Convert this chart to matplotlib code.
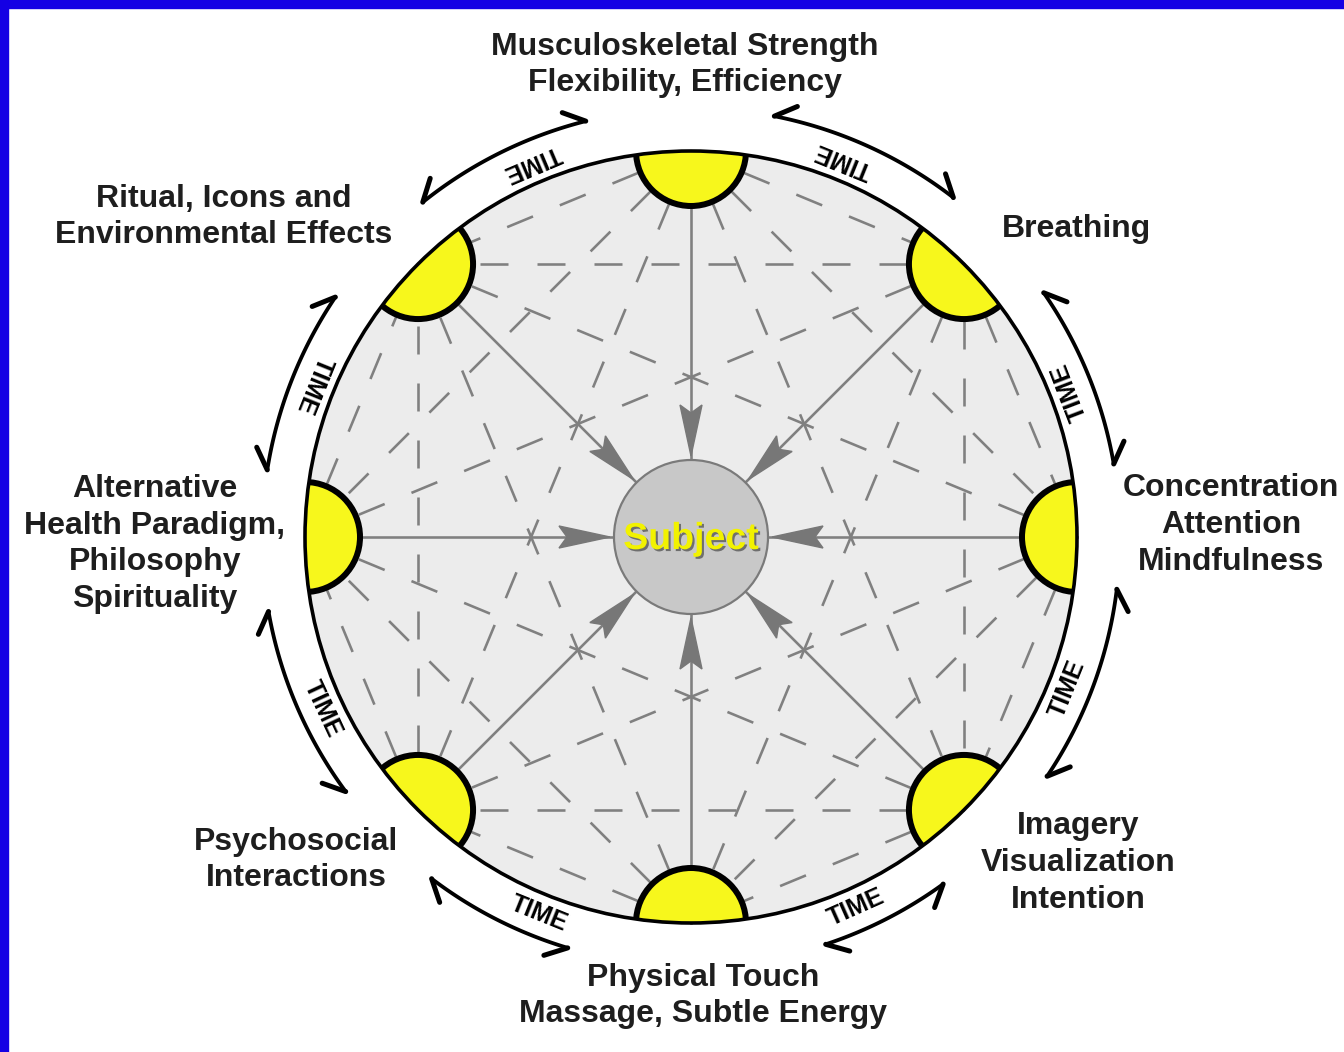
import numpy as np
import matplotlib
matplotlib.use("Agg")
import matplotlib.pyplot as plt
from matplotlib.patches import Circle, Polygon, Rectangle
import matplotlib.patheffects as pe

# ---------------- data ----------------
node_labels = [
    "Musculoskeletal Strength\nFlexibility, Efficiency",
    "Breathing",
    "Concentration\nAttention\nMindfulness",
    "Imagery\nVisualization\nIntention",
    "Physical Touch\nMassage, Subtle Energy",
    "Psychosocial\nInteractions",
    "Alternative\nHealth Paradigm,\nPhilosophy\nSpirituality",
    "Ritual, Icons and\nEnvironmental Effects",
]
node_angles = [90, 45, 0, -45, -90, -135, 180, 135]
time_labels = ["TIME"] * 8
center_label = "Subject"

# ---------------- layout ----------------
W, H = 1344, 1052
CX, CY, R = 691, 537, 386
R_NODE = 55
R_SUBJ = 77
R_ARC = 429
R_TIME = 406
arc_start = [52.3, 9.8, -33.9, -71.7, -127.2, -170.0, 146.0, 104.2]
arc_end = [78.8, 34.7, -7.0, -54.0, -106.7, -143.6, 171.0, 128.7]
time_text_ang = [68.0, 21.0, -22.0, -66.0, -112.0, -155.0, 158.0, 113.0]
label_pos = [(685, 65), (1077, 229), (1231, 525), (1078, 863),
             (703, 996), (296, 860), (155, 544), (224, 217)]

PX = 0.72  # points per pixel at dpi=100
GRAY = "#808080"
YELLOW = "#f7f71c"
TEXT = "#1e1e1e"
plt.rcParams["lines.scale_dashes"] = False
FONT = ["Liberation Sans", "DejaVu Sans"]

fig = plt.figure(figsize=(W / 100, H / 100), dpi=100)
ax = fig.add_axes([0, 0, 1, 1])
ax.set_xlim(0, W)
ax.set_ylim(H, 0)
ax.set_aspect("equal")
ax.axis("off")
fig.patch.set_facecolor("white")


def pt(r, deg):
    a = np.deg2rad(deg)
    return CX + r * np.cos(a), CY - r * np.sin(a)


# border
blue = "#1400e4"
ax.add_patch(Rectangle((0, 0), W, 8, color=blue, zorder=10))
ax.add_patch(Rectangle((0, 0), 8, H, color=blue, zorder=10))

# big circle background
big = Circle((CX, CY), R, facecolor="#ececec", edgecolor="none", zorder=1)
ax.add_patch(big)

nodes = [pt(R, a) for a in node_angles]
n = len(nodes)

# dashed chords between nodes
for i in range(n):
    for j in range(i + 1, n):
        if (j - i) % n == n // 2:
            continue
        (x1, y1), (x2, y2) = nodes[i], nodes[j]
        ax.plot([x1, x2], [y1, y2], color=GRAY, lw=2.6 * PX,
                dashes=(28 * PX, 29 * PX), solid_capstyle="butt",
                dash_capstyle="butt", zorder=2)

# solid spokes with arrowheads
for a in node_angles:
    x1, y1 = pt(R, a)
    x2, y2 = pt(R_SUBJ, a)
    ax.plot([x1, x2], [y1, y2], color=GRAY, lw=2.6 * PX, zorder=3)
    rad = np.deg2rad(a)
    ux, uy = np.cos(rad), -np.sin(rad)
    px, py = -uy, ux
    tip = pt(R_SUBJ + 4, a)
    base = pt(R_SUBJ + 55, a)
    notch = pt(R_SUBJ + 47, a)
    hw = 11
    poly = [tip,
            (base[0] + px * hw, base[1] + py * hw),
            notch,
            (base[0] - px * hw, base[1] - py * hw)]
    ax.add_patch(Polygon(poly, closed=True, facecolor="#777777",
                         edgecolor="#777777", lw=1, zorder=4))

# subject circle
ax.add_patch(Circle((CX, CY), R_SUBJ, facecolor="#c8c8c8",
                    edgecolor="#7a7a7a", lw=2.2 * PX, zorder=5))
ax.text(CX, CY + 2, center_label, color="#f2f200", fontsize=27,
        fontweight="bold", family=FONT, ha="center", va="center", zorder=6,
        path_effects=[pe.withSimplePatchShadow(offset=(1.5, -1.5),
                                               shadow_rgbFace="#333333",
                                               alpha=0.6)])

# yellow half discs at nodes
for (x, y) in nodes:
    c = Circle((x, y), R_NODE, facecolor=YELLOW, edgecolor="black",
               lw=6 * PX, zorder=7)
    ax.add_patch(c)
    c.set_clip_path(big)

# big circle outline
ax.add_patch(Circle((CX, CY), R, facecolor="none", edgecolor="black",
                    lw=3.6 * PX, zorder=8))

# TIME arcs with harpoon ends
for a0, a1, tang, lab in zip(arc_start, arc_end, time_text_ang, time_labels):
    t = np.linspace(a0, a1, 80)
    xs, ys = pt(R_ARC, t)
    ax.plot(xs, ys, color="black", lw=3.8 * PX, solid_capstyle="round",
            zorder=8)
    for end, sgn in ((a0, 1), (a1, -1)):
        tx, ty = pt(R_ARC, end)
        e = np.deg2rad(end)
        tgx, tgy = -np.sin(e) * sgn, -np.cos(e) * sgn
        nx, ny = np.cos(e), -np.sin(e)
        ang = np.deg2rad(34)
        L = 25
        bx = tx + L * (np.cos(ang) * tgx + np.sin(ang) * nx)
        by = ty + L * (np.cos(ang) * tgy + np.sin(ang) * ny)
        ax.plot([tx, bx], [ty, by], color="black", lw=5 * PX,
                solid_capstyle="round", zorder=8)
    xt, yt = pt(R_TIME, tang)
    ax.text(xt, yt, lab, rotation=tang + 90, rotation_mode="anchor",
            ha="center", va="center", fontsize=18, fontweight="bold",
            family=FONT, color="black", zorder=9)

# node labels
for lab, (x, y) in zip(node_labels, label_pos):
    ax.text(x, y, lab, ha="center", va="center", fontsize=23,
            fontweight="bold", family=FONT, color=TEXT, linespacing=1.3,
            zorder=9)

fig.savefig("out.png", dpi=100, facecolor="white")
